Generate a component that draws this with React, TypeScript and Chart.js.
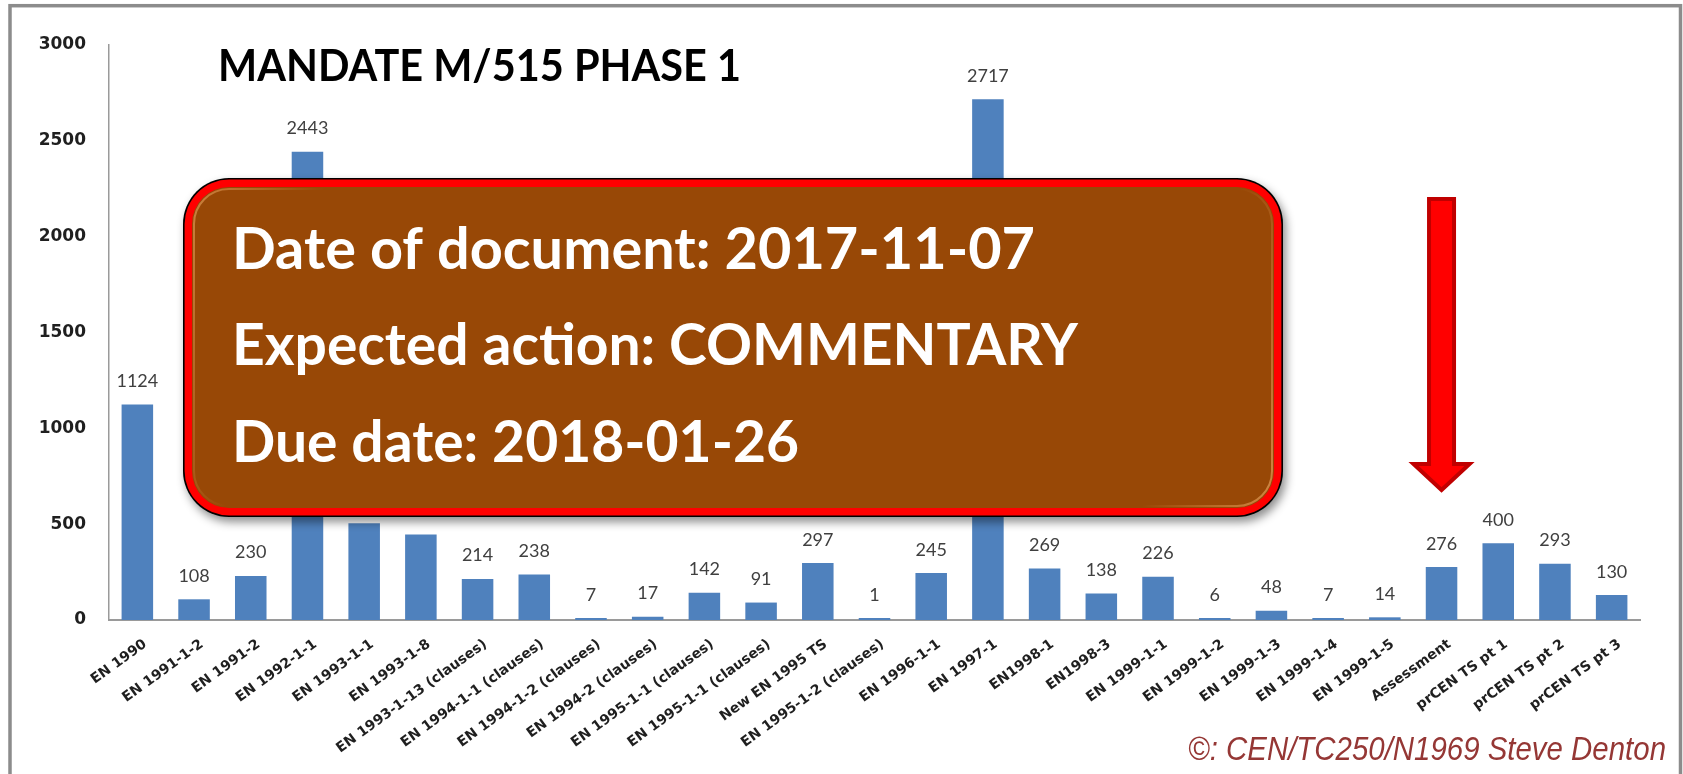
import React, { useEffect, useRef } from "react";
import { Chart, registerables } from "chart.js";

Chart.register(...registerables);

// ---------- data ----------
const categories = [
  "EN 1990",
  "EN 1991-1-2",
  "EN 1991-2",
  "EN 1992-1-1",
  "EN 1993-1-1",
  "EN 1993-1-8",
  "EN 1993-1-13 (clauses)",
  "EN 1994-1-1 (clauses)",
  "EN 1994-1-2 (clauses)",
  "EN 1994-2 (clauses)",
  "EN 1995-1-1 (clauses)",
  "EN 1995-1-1 (clauses)",
  "New EN 1995 TS",
  "EN 1995-1-2 (clauses)",
  "EN 1996-1-1",
  "EN 1997-1",
  "EN1998-1",
  "EN1998-3",
  "EN 1999-1-1",
  "EN 1999-1-2",
  "EN 1999-1-3",
  "EN 1999-1-4",
  "EN 1999-1-5",
  "Assessment",
  "prCEN TS pt 1",
  "prCEN TS pt 2",
  "prCEN TS pt 3",
];

const values = [
  1124, 108, 230, 2443, 505, 446, 214, 238, 7, 17, 142, 91, 297, 1, 245, 2717,
  269, 138, 226, 6, 48, 7, 14, 276, 400, 293, 130,
];

const yMin = 0;
const yMax = 3000;
const yStep = 500;

const chartTitle = "MANDATE M/515 PHASE 1";
const noticeLines = [
  "Date of document: 2017-11-07",
  "Expected action: COMMENTARY",
  "Due date: 2018-01-26",
];
const arrowTarget = "Assessment";
const credit = "©: CEN/TC250/N1969 Steve Denton";

// ---------- helpers ----------
function roundRectPath(
  ctx: CanvasRenderingContext2D,
  x: number,
  y: number,
  w: number,
  h: number,
  r: number
) {
  ctx.beginPath();
  ctx.moveTo(x + r, y);
  ctx.arcTo(x + w, y, x + w, y + h, r);
  ctx.arcTo(x + w, y + h, x, y + h, r);
  ctx.arcTo(x, y + h, x, y, r);
  ctx.arcTo(x, y, x + w, y, r);
  ctx.closePath();
}

function fitText(
  ctx: CanvasRenderingContext2D,
  text: string,
  x: number,
  baseline: number,
  font: string,
  width: number,
  color: string
) {
  ctx.save();
  ctx.font = font;
  const w = ctx.measureText(text).width || 1;
  ctx.translate(x, baseline);
  ctx.scale(width / w, 1);
  ctx.fillStyle = color;
  ctx.textAlign = "left";
  ctx.textBaseline = "alphabetic";
  ctx.fillText(text, 0, 0);
  ctx.restore();
}

const backgroundPlugin = {
  id: "bgFrame",
  beforeDraw(chart: any) {
    const ctx: CanvasRenderingContext2D = chart.ctx;
    ctx.save();
    ctx.fillStyle = "#ffffff";
    ctx.fillRect(0, 0, chart.width, chart.height);
    ctx.strokeStyle = "#8c8c8c";
    ctx.lineWidth = 3.5;
    ctx.strokeRect(10, 5.7, 1670.5, 820);
    ctx.restore();
  },
};

const valueLabelPlugin = {
  id: "valueLabels",
  afterDatasetsDraw(chart: any) {
    const ctx: CanvasRenderingContext2D = chart.ctx;
    const meta = chart.getDatasetMeta(0);
    ctx.save();
    ctx.font = "18px Lato";
    ctx.fillStyle = "#404040";
    ctx.textAlign = "center";
    ctx.textBaseline = "alphabetic";
    meta.data.forEach((bar: any, i: number) => {
      ctx.fillText(String(values[i]), bar.x, bar.y - 17.5);
    });
    ctx.restore();
  },
};

const overlayPlugin = {
  id: "overlay",
  afterDraw(chart: any) {
    const ctx: CanvasRenderingContext2D = chart.ctx;

    // title
    fitText(ctx, chartTitle, 218, 81, "bold 43px Lato", 523, "#000000");

    // notice box
    const bx = 183, by = 178, bw = 1100, bh = 339;
    ctx.save();
    ctx.shadowColor = "rgba(0,0,0,0.45)";
    ctx.shadowBlur = 10;
    ctx.shadowOffsetX = 3;
    ctx.shadowOffsetY = 5;
    roundRectPath(ctx, bx, by, bw, bh, 46);
    ctx.fillStyle = "#000000";
    ctx.fill();
    ctx.restore();

    ctx.save();
    roundRectPath(ctx, bx + 1.6, by + 1.6, bw - 3.2, bh - 3.2, 44.5);
    ctx.fillStyle = "#ff0000";
    ctx.fill();
    roundRectPath(ctx, bx + 9, by + 9, bw - 18, bh - 18, 37);
    ctx.fillStyle = "#984806";
    ctx.fill();
    ctx.lineWidth = 2;
    const g = ctx.createLinearGradient(bx, by, bx + bw, by + bh);
    g.addColorStop(0, "rgba(255,190,120,0.55)");
    g.addColorStop(0.12, "rgba(255,190,120,0)");
    g.addColorStop(0.88, "rgba(255,190,120,0)");
    g.addColorStop(1, "rgba(255,190,120,0.6)");
    ctx.strokeStyle = g;
    roundRectPath(ctx, bx + 11, by + 11, bw - 22, bh - 22, 35);
    ctx.stroke();
    ctx.restore();

    const lineWidths = [803, 846, 567];
    const baselines = [269, 365, 462];
    noticeLines.forEach((t, i) => {
      fitText(ctx, t, 232, baselines[i], "bold 57px Lato", lineWidths[i], "#ffffff");
    });

    // arrow pointing at target category
    const xScale = chart.scales.x;
    const idx = categories.indexOf(arrowTarget);
    const cx = xScale.getPixelForValue(idx);
    ctx.save();
    ctx.beginPath();
    ctx.moveTo(cx - 12.5, 199);
    ctx.lineTo(cx + 12.5, 199);
    ctx.lineTo(cx + 12.5, 464);
    ctx.lineTo(cx + 28, 464);
    ctx.lineTo(cx, 490);
    ctx.lineTo(cx - 28, 464);
    ctx.lineTo(cx - 12.5, 464);
    ctx.closePath();
    ctx.fillStyle = "#ff0000";
    ctx.fill();
    ctx.lineWidth = 4;
    ctx.lineJoin = "miter";
    ctx.strokeStyle = "#c00000";
    ctx.stroke();
    ctx.restore();

    // credit
    fitText(ctx, credit, 1188, 760, 'italic 33px "Liberation Sans"', 478, "#953735");
  },
};

export default function App() {
  const canvasRef = useRef<HTMLCanvasElement | null>(null);

  useEffect(() => {
    const canvas = canvasRef.current;
    if (!canvas) return;
    const chart = new Chart(canvas, {
      type: "bar",
      data: {
        labels: categories,
        datasets: [
          {
            data: values,
            backgroundColor: "#4F81BD",
            borderWidth: 0,
            barPercentage: 0.556,
            categoryPercentage: 1,
            minBarLength: 2,
          },
        ],
      },
      options: {
        responsive: false,
        animation: false,
        devicePixelRatio: 1,
        layout: { padding: { left: 0, top: 45, right: 43, bottom: 0 } },
        plugins: {
          legend: { display: false },
          tooltip: { enabled: false },
          title: { display: false },
        },
        scales: {
          x: {
            type: "category",
            offset: true,
            grid: { display: false, drawTicks: false },
            border: { display: true, color: "#9a9a9a", width: 2 },
            ticks: {
              autoSkip: false,
              minRotation: 36,
              maxRotation: 36,
              padding: 16,
              labelOffset: 8,
              color: "#1f1f1f",
              font: { family: '"DejaVu Sans"', size: 14, weight: "bold" },
            },
            afterFit: (s: any) => {
              s.height = 154;
            },
          },
          y: {
            min: yMin,
            max: yMax,
            grid: { display: false, drawTicks: false },
            border: { display: true, color: "#9a9a9a", width: 1.5 },
            ticks: {
              stepSize: yStep,
              padding: 23,
              color: "#1f1f1f",
              font: { family: '"DejaVu Sans"', size: 17, weight: "bold" },
              callback: (v: any) => String(v),
            },
            afterFit: (s: any) => {
              s.width = 109;
            },
          },
        },
      } as any,
      plugins: [backgroundPlugin, valueLabelPlugin, overlayPlugin],
    });

    let alive = true;
    if ((document as any).fonts) {
      Promise.all([
        document.fonts.load("bold 43px Lato"),
        document.fonts.load("18px Lato"),
        document.fonts.load('bold 17px "DejaVu Sans"'),
        document.fonts.load('italic 33px "Liberation Sans"'),
      ])
        .then(() => {
          if (alive) chart.update();
        })
        .catch(() => {});
    }

    return () => {
      alive = false;
      chart.destroy();
    };
  }, []);

  return (
    <div
      style={{
        position: "absolute",
        left: 0,
        top: 0,
        width: 1683,
        height: 774,
        background: "#ffffff",
      }}
    >
      <canvas ref={canvasRef} width={1683} height={774} style={{ display: "block" }} />
    </div>
  );
}
